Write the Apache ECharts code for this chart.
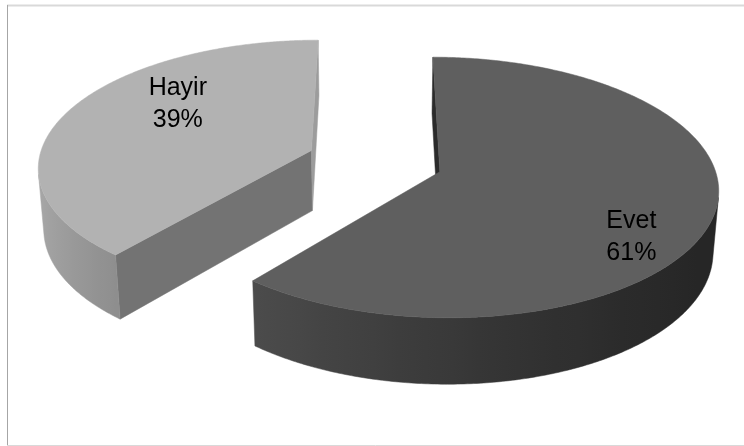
<!DOCTYPE html>
<html>
<head>
<meta charset="utf-8">
<script src="https://cdn.jsdelivr.net/npm/echarts@6/dist/echarts.min.js"></script>
<style>
  html, body { margin: 0; padding: 0; background: #ffffff; }
  #chart { width: 744px; height: 446px; }
</style>
</head>
<body>
<div id="chart"></div>
<script>
// Survey answers
const categories = ['Evet', 'Hayir'];
const values = [61, 39];

// Slice colours (top faces) and the colours of the radial cut faces [start, end]
const sliceColors = ['#5f5f5f', '#b2b2b2'];
const cutFaceColors = [['#2b2b2b', '#3a3a3a'], ['#737373', '#9c9c9c']];

// Perspective view of the pie disc (unit radius)
const VIEW = {
  cx: 375, cy: 161,          // screen position of the disc centre
  sx: 273, sy: 268,          // pixels per unit radius
  elev: 28 * Math.PI / 180,  // camera elevation
  dist: 7.4,                 // camera distance (in radii)
  depth: 0.26,               // disc thickness (in radii)
  explode: 0.25              // slice offset along its bisector
};
const labelRadius = [0.80, 0.66];
const labelTurn = 17 * Math.PI / 180;

const sinE = Math.sin(VIEW.elev), cosE = Math.cos(VIEW.elev);
const camera = [0, VIEW.dist * sinE, -VIEW.dist * cosE];

function project(X, Y, Z) {
  const yc = Y * cosE + Z * sinE;
  const w = 1 + (-Y * sinE + Z * cosE) / VIEW.dist;
  return [VIEW.cx + VIEW.sx * X / w, VIEW.cy - VIEW.sy * yc / w];
}

function hexToRgb(hex) {
  const n = parseInt(hex.slice(1), 16);
  return [(n >> 16) & 255, (n >> 8) & 255, n & 255];
}
// side wall shading as a function of the wall's facing angle
function wallShade(hex, t) {
  const f = Math.max(0, 0.69 - 0.28 * Math.sin(t) + 0.09 * Math.cos(t));
  const c = hexToRgb(hex).map(v => Math.min(255, Math.round(v * f)));
  return 'rgb(' + c.join(',') + ')';
}

const total = values.reduce((a, b) => a + b, 0);

function renderItem(params, api) {
  const i = params.dataIndex;
  let cum = 0;
  for (let k = 0; k < i; k++) cum += values[k];
  const v = api.value(0);
  const a0 = 2 * Math.PI * cum / total;
  const a1 = 2 * Math.PI * (cum + v) / total;
  const mid = (a0 + a1) / 2;
  const ox = VIEW.explode * Math.sin(mid);
  const oz = VIEW.explode * Math.cos(mid);
  const H = VIEW.depth;
  const rim = (t, y) => project(ox + Math.sin(t), y, oz + Math.cos(t));
  const base = sliceColors[i];
  const children = [];

  // radial cut faces
  [[a0, -1], [a1, 1]].forEach(function (f, fi) {
    const t = f[0], sgn = f[1];
    const nx = sgn * Math.cos(t), nz = -sgn * Math.sin(t);
    const px = ox + 0.5 * Math.sin(t), pz = oz + 0.5 * Math.cos(t);
    const dot = nx * (camera[0] - px) + nz * (camera[2] - pz);
    if (dot <= 0) return;
    children.push({
      type: 'polygon',
      shape: { points: [project(ox, 0, oz), rim(t, 0), rim(t, -H), project(ox, -H, oz)] },
      style: { fill: cutFaceColors[i][fi], stroke: cutFaceColors[i][fi], lineWidth: 0.5 }
    });
  });

  // outer wall: only the parts facing the camera
  const steps = 360;
  const runs = [];
  let run = null;
  for (let s = 0; s <= steps; s++) {
    const t = a0 + (a1 - a0) * s / steps;
    const px = ox + Math.sin(t), pz = oz + Math.cos(t);
    const dot = Math.sin(t) * (camera[0] - px) + Math.cos(t) * (camera[2] - pz);
    if (dot > 0) {
      if (!run) { run = []; runs.push(run); }
      run.push(t);
    } else {
      run = null;
    }
  }
  runs.forEach(function (r) {
    if (r.length < 2) return;
    const top = r.map(t => rim(t, 0));
    const bottom = r.map(t => rim(t, -H)).reverse();
    const xs = top.map(p => p[0]);
    const minX = Math.min.apply(null, xs), maxX = Math.max.apply(null, xs);
    const stops = [];
    const every = Math.max(1, Math.floor(r.length / 24));
    for (let k = 0; k < r.length; k += every) {
      stops.push({ offset: (xs[k] - minX) / Math.max(1, maxX - minX), color: wallShade(base, r[k]) });
    }
    stops.push({ offset: (xs[r.length - 1] - minX) / Math.max(1, maxX - minX), color: wallShade(base, r[r.length - 1]) });
    stops.sort((p, q) => p.offset - q.offset);
    const grad = { type: 'linear', x: minX, y: 0, x2: maxX, y2: 0, global: true, colorStops: stops };
    children.push({
      type: 'polygon',
      shape: { points: top.concat(bottom) },
      style: { fill: grad, stroke: grad, lineWidth: 0.5 }
    });
  });

  // top face
  const topPts = [project(ox, 0, oz)];
  for (let s = 0; s <= steps; s++) {
    const t = a0 + (a1 - a0) * s / steps;
    topPts.push(rim(t, 0));
  }
  children.push({
    type: 'polygon',
    shape: { points: topPts },
    style: { fill: base, stroke: base, lineWidth: 0.5 }
  });

  // data label
  const lt = mid + labelTurn, lr = labelRadius[i];
  const lp = project(ox + lr * Math.sin(lt), 0, oz + lr * Math.cos(lt));
  children.push({
    type: 'text',
    style: {
      text: categories[i] + '\n' + Math.round(v / total * 100) + '%',
      x: lp[0], y: lp[1],
      align: 'center', verticalAlign: 'middle',
      fontFamily: '"Liberation Sans", Arial, sans-serif',
      fontSize: 25, lineHeight: 32, fill: '#000000'
    }
  });

  return { type: 'group', children: children };
}

const chart = echarts.init(document.getElementById('chart'), null, { renderer: 'canvas' });
chart.setOption({
  animation: false,
  backgroundColor: '#ffffff',
  graphic: [
    { type: 'line', shape: { x1: 7, y1: 5.5, x2: 744, y2: 5.5 }, style: { stroke: '#d9d9d9', lineWidth: 2 } },
    { type: 'line', shape: { x1: 7.5, y1: 5, x2: 7.5, y2: 445 }, style: { stroke: '#a6a6a6', lineWidth: 1 } },
    { type: 'line', shape: { x1: 7, y1: 445.5, x2: 744, y2: 445.5 }, style: { stroke: '#d9d9d9', lineWidth: 1 } }
  ],
  series: [{
    type: 'custom',
    coordinateSystem: 'none',
    renderItem: renderItem,
    data: values.map((v, i) => ({ name: categories[i], value: v }))
  }]
});
</script>
</body>
</html>
